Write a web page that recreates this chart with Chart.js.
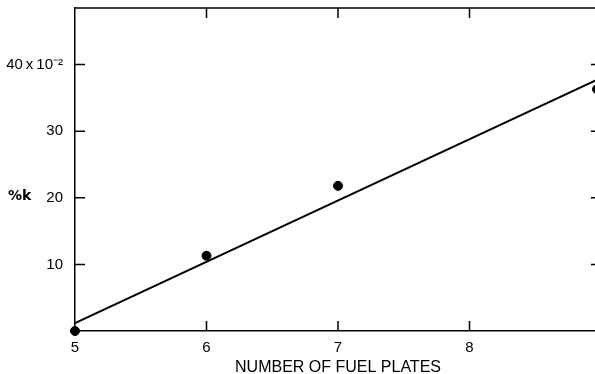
<!DOCTYPE html>
<html>
<head>
<meta charset="utf-8">
<script src="https://cdn.jsdelivr.net/npm/chart.js@4.4.0/dist/chart.umd.min.js"></script>
<style>
  html, body { margin: 0; padding: 0; background: #fff; overflow: hidden; }
  #chart { display: block; }
</style>
</head>
<body>
<canvas id="chart" width="610" height="374"></canvas>
<script>
// Measured points
const plates = [5, 6, 7, 8.97];
const pctK = [0, 11.3, 21.8, 36.3];
// Fitted straight line
const fitX = [5, 9];
const fitY = [1.2, 38.0];
// Axis ticks
const xTicks = [5, 6, 7, 8];
const yTicks = [10, 20, 30, 40];

const FONT = '"Liberation Sans", Arial, sans-serif';

// inward tick marks, top/right frame and the horizontal "%k" label
const frame = {
  id: 'frame',
  afterDatasetsDraw(chart) {
    const { ctx, chartArea: a, scales: { x, y } } = chart;
    ctx.save();
    ctx.strokeStyle = '#000';
    ctx.lineWidth = 1.5;
    ctx.beginPath();
    ctx.moveTo(a.left, a.top);
    ctx.lineTo(a.right, a.top);
    ctx.lineTo(a.right, a.bottom);
    xTicks.slice(1).forEach(v => {
      const px = x.getPixelForValue(v);
      ctx.moveTo(px, a.bottom); ctx.lineTo(px, a.bottom - 10);
      ctx.moveTo(px, a.top); ctx.lineTo(px, a.top + 10);
    });
    yTicks.forEach(v => {
      const py = y.getPixelForValue(v);
      ctx.moveTo(a.left, py); ctx.lineTo(a.left + 10, py);
      ctx.moveTo(a.right, py); ctx.lineTo(a.right - 10, py);
    });
    ctx.stroke();
    ctx.fillStyle = '#000';
    ctx.font = 'bold 14px "DejaVu Sans", sans-serif';
    ctx.textBaseline = 'middle';
    ctx.fillText('%k', 8, 196);
    ctx.restore();
  }
};

new Chart(document.getElementById('chart'), {
  type: 'scatter',
  data: {
    datasets: [
      {
        label: 'fit',
        type: 'line',
        data: fitX.map((v, i) => ({ x: v, y: fitY[i] })),
        borderColor: '#000',
        borderWidth: 2,
        pointRadius: 0,
        fill: false
      },
      {
        label: 'measured',
        data: plates.map((v, i) => ({ x: v, y: pctK[i] })),
        backgroundColor: '#000',
        borderColor: '#000',
        pointRadius: 4.5,
        clip: false
      }
    ]
  },
  options: {
    responsive: false,
    animation: false,
    layout: { padding: { top: 8, right: 9, left: 0, bottom: 0 } },
    plugins: { legend: { display: false }, tooltip: { enabled: false } },
    scales: {
      x: {
        type: 'linear',
        min: 5,
        max: 9,
        afterBuildTicks: s => { s.ticks = xTicks.map(v => ({ value: v })); },
        afterFit: s => { s.height = 43; s.paddingLeft = 0; s.paddingRight = 0; },
        grid: { drawOnChartArea: false, drawTicks: false },
        border: { color: '#000', width: 1.5 },
        ticks: { color: '#000', padding: 8, font: { family: FONT, size: 15 } },
        title: {
          display: true,
          text: 'NUMBER OF FUEL PLATES',
          color: '#000',
          padding: { top: 0, bottom: -3 },
          font: { family: FONT, size: 16 }
        }
      },
      y: {
        min: 0,
        max: 48.5,
        afterBuildTicks: s => { s.ticks = yTicks.map(v => ({ value: v })); },
        afterFit: s => { s.width = 75; s.paddingTop = 0; s.paddingBottom = 0; },
        grid: { drawOnChartArea: false, drawTicks: false },
        border: { color: '#000', width: 1.5 },
        ticks: {
          color: '#000',
          padding: 12,
          font: { family: FONT, size: 15 },
          callback: v => v === 40 ? '40\u2009x\u200910\u207B\u00B2' : String(v)
        }
      }
    }
  },
  plugins: [frame]
});
</script>
</body>
</html>
